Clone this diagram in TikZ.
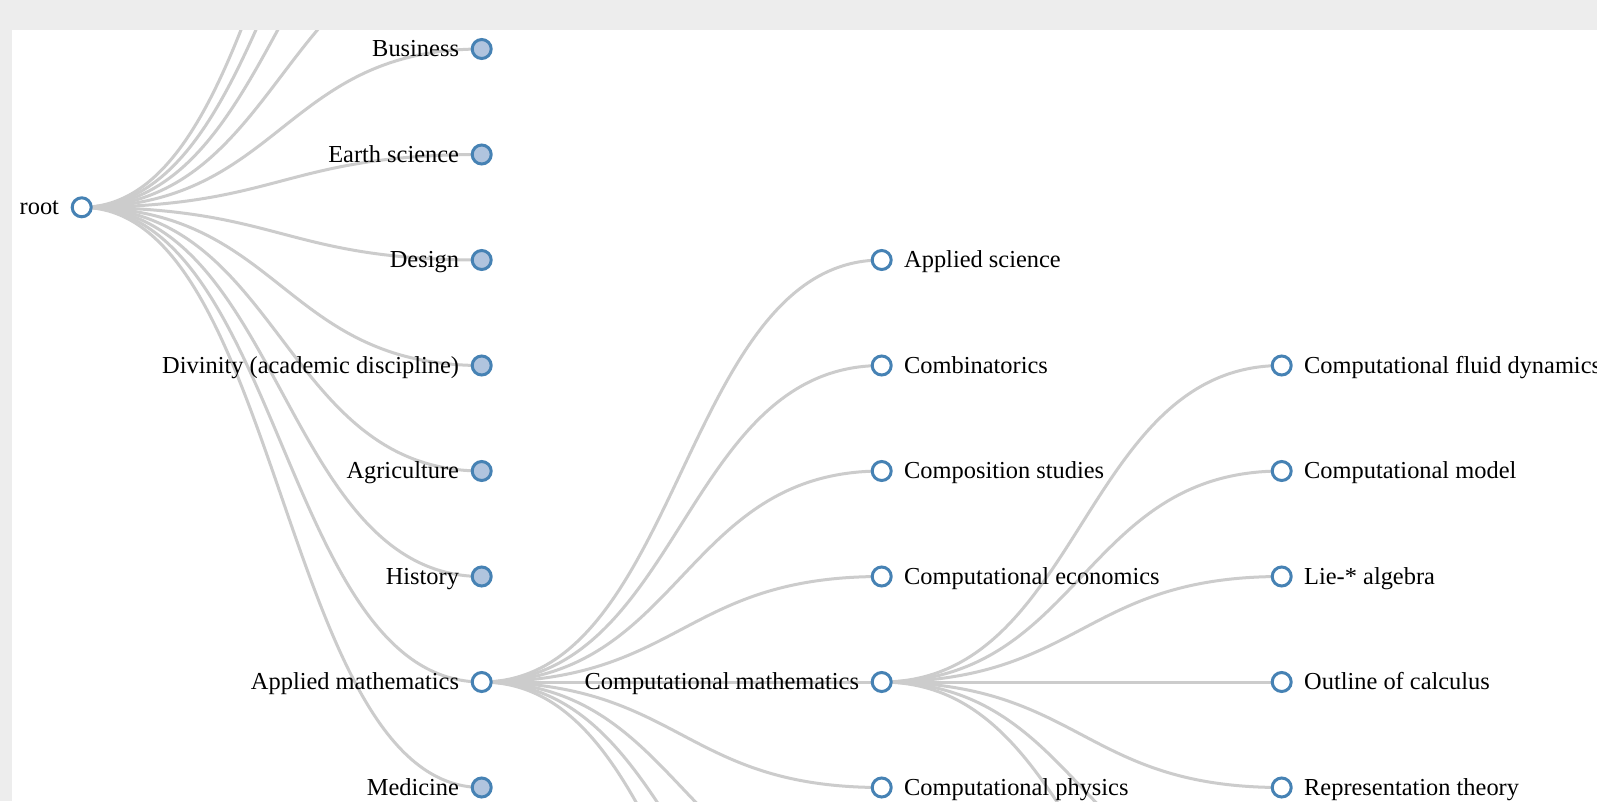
\documentclass[tikz,border=0pt]{standalone}
\usepackage{fontspec}
\setmainfont{Liberation Serif}
\usetikzlibrary{calc}
\definecolor{bgray}{HTML}{EDEDED}
\definecolor{linkc}{HTML}{CCCCCC}
\definecolor{steel}{HTML}{4682B4}
\definecolor{lsteel}{HTML}{B0C4DE}
\pgfdeclarelayer{links}
\pgfsetlayers{links,main}
\newcommand\dlink[2]{\draw[link] let \p1=(#1.center), \p2=(#2.center) in (\p1) .. controls ({0.5*\x1+0.5*\x2},\y1) and ({0.5*\x1+0.5*\x2},\y2) .. (\p2);}
\begin{document}
\begin{tikzpicture}[x=1pt,y=-1pt,
  link/.style={draw=linkc, line width=3pt},
  opennode/.style={circle, draw=steel, line width=3pt, fill=white, minimum size=19pt, inner sep=0pt},
  closednode/.style={opennode, fill=lsteel},
  ltext/.style={anchor=base east, inner sep=0pt, font=\fontsize{24.4}{28}\selectfont, text=black},
  rtext/.style={anchor=base west, inner sep=0pt, font=\fontsize{24.4}{28}\selectfont, text=black}]
\useasboundingbox (0,0) rectangle (1597,801);
% root
\node[opennode] (root) at (81.7,207.3) {};
\node[ltext] (rootT) at (59.2,214.8) {root};
% level 1
\coordinate (a1) at (481.7,-373);
\coordinate (a2) at (481.7,-267.5);
\coordinate (a3) at (481.7,-162);
\coordinate (a4) at (481.7,-56.5);
\node[closednode] (bus) at (481.7,49) {};
\node[closednode] (ear) at (481.7,154.5) {};
\node[closednode] (des) at (481.7,260) {};
\node[closednode] (div) at (481.7,365.5) {};
\node[closednode] (agr) at (481.7,471) {};
\node[closednode] (his) at (481.7,576.5) {};
\node[opennode] (apm) at (481.7,682) {};
\node[closednode] (med) at (481.7,787.5) {};
\node[ltext] (busT) at (459.2,56.5) {Business};
\node[ltext] (earT) at (459.2,162) {Earth science};
\node[ltext] (desT) at (459.2,267.5) {Design};
\node[ltext] (divT) at (459.2,373) {Divinity (academic discipline)};
\node[ltext] (agrT) at (459.2,478.5) {Agriculture};
\node[ltext] (hisT) at (459.2,584) {History};
\node[ltext] (apmT) at (459.2,689.5) {Applied mathematics};
\node[ltext] (medT) at (459.2,795) {Medicine};
% level 2
\node[opennode] (aps) at (881.7,260) {};
\node[opennode] (cmb) at (881.7,365.5) {};
\node[opennode] (cst) at (881.7,471) {};
\node[opennode] (cec) at (881.7,576.5) {};
\node[opennode] (cma) at (881.7,682) {};
\node[opennode] (cph) at (881.7,787.5) {};
\coordinate (b1) at (881.7,893);
\coordinate (b2) at (881.7,998.5);
\coordinate (b3) at (881.7,1104);
\node[rtext] (apsT) at (904,267.5) {Applied science};
\node[rtext] (cmbT) at (904,373) {Combinatorics};
\node[rtext] (cstT) at (904,478.5) {Composition studies};
\node[rtext] (cecT) at (904,584) {Computational economics};
\node[ltext] (cmaT) at (859.2,689.5) {Computational mathematics};
\node[rtext] (cphT) at (904,795) {Computational physics};
% level 3
\node[opennode] (cfd) at (1281.7,365.5) {};
\node[opennode] (cmo) at (1281.7,471) {};
\node[opennode] (lie) at (1281.7,576.5) {};
\node[opennode] (ocl) at (1281.7,682) {};
\node[opennode] (rep) at (1281.7,787.5) {};
\coordinate (c1) at (1281.7,893);
\coordinate (c2) at (1281.7,998.5);
\node[rtext] (cfdT) at (1304,373) {Computational fluid dynamics};
\node[rtext] (cmoT) at (1304,478.5) {Computational model};
\node[rtext] (lieT) at (1304,584) {Lie-* algebra};
\node[rtext] (oclT) at (1304,689.5) {Outline of calculus};
\node[rtext] (repT) at (1304,795) {Representation theory};
% links
\begin{pgfonlayer}{links}
\fill[bgray] (0,0) rectangle (1597,801);
\fill[white] (12,30) rectangle (1597,801);
\clip (12,30) rectangle (1597,801);
\foreach \c in {a1,a2,a3,a4,bus,ear,des,div,agr,his,apm,med} {\dlink{root}{\c}}
\foreach \c in {aps,cmb,cst,cec,cma,cph,b1,b2,b3} {\dlink{apm}{\c}}
\foreach \c in {cfd,cmo,lie,ocl,rep,c1,c2} {\dlink{cma}{\c}}
\end{pgfonlayer}
\end{tikzpicture}
\end{document}
